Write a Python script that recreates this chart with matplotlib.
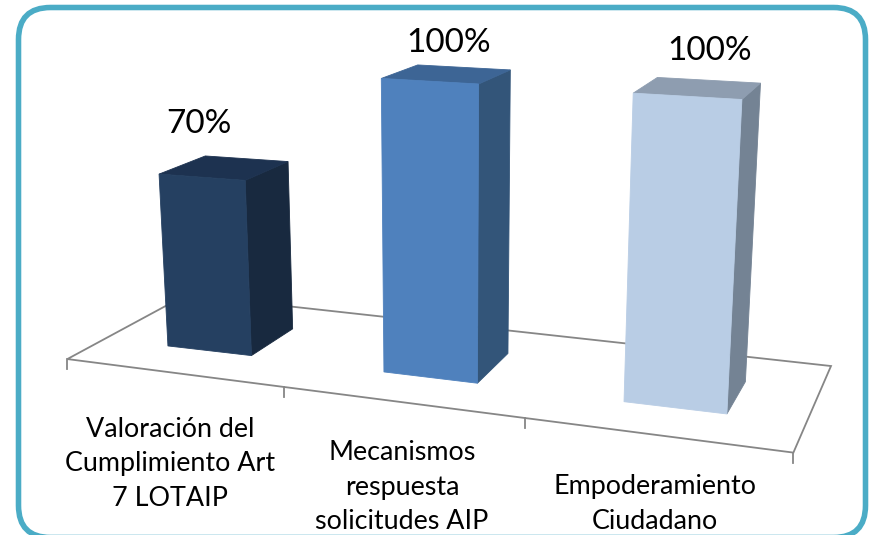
import numpy as np
import matplotlib
matplotlib.use("Agg")
import matplotlib.pyplot as plt
from matplotlib.patches import FancyBboxPatch, Polygon

plt.rcParams['font.family'] = ['Lato', 'DejaVu Sans']

categories = ["Valoración del\nCumplimiento Art\n7 LOTAIP", "Mecanismos\nrespuesta\nsolicitudes AIP", "Empoderamiento\nCiudadano"]
values = [70, 100, 100]
value_labels = ["70%", "100%", "100%"]

front_colors = ["#254061", "#4F81BD", "#B9CDE5"]
top_colors = ["#1D3250", "#3D6595", "#8E9DB0"]
side_colors = ["#18293F", "#335579", "#748394"]

BAR_WIDTH = 0.385
DEPTH_FRONT = 0.3
DEPTH_BACK = 0.7
BAR_OFFSET = [0.46, 0.5, 0.5]
LABEL_POS = [(170, 464), (402, 487), (655, 504)]
VALUE_POS = [(199, 124), (449, 43), (710, 51)]

# floor corners and ticks as seen in the picture, used to fit the 3d view
floor_world = [(0, 0, 0), (3, 0, 0), (3, 1, 0), (0, 1, 0), (1, 0, 0), (2, 0, 0)]
floor_px = [(67.3, 359.3), (793.3, 453.3), (831, 366), (186, 295), (284, 387), (524.7, 417)]
# bar corners: front bottom l/r, back bottom r, front top l/r, back top l/r
corner_px = [
	[(168, 346), (251.3, 355.7), (292.7, 328.7), (159.3, 174.3), (245, 180), (205, 155.7), (288.3, 162)],
	[(384, 372), (477.3, 383.3), (508, 353.3), (381.7, 78.3), (478.3, 84), (417.3, 65), (510.7, 70)],
	[(624, 401.7), (727, 414), (745.3, 381.7), (633.3, 93.3), (741.7, 99.3), (657.3, 77.3), (760.7, 83.3)],
]


def bar_box(i):
	x0 = i + BAR_OFFSET[i] - BAR_WIDTH / 2
	return x0, x0 + BAR_WIDTH


def fit_camera(world, px):
	a = []
	b = []
	for (x, y, z), (u, w) in zip(world, px):
		a.append([x, y, z, 1, 0, 0, 0, 0, -u * x, -u * y, -u * z])
		b.append(u)
		a.append([0, 0, 0, 0, x, y, z, 1, -w * x, -w * y, -w * z])
		b.append(w)
	m = np.linalg.lstsq(np.array(a), np.array(b), rcond=None)[0]
	return np.append(m, 1.0).reshape(3, 4)


def project(camera, x, y, z):
	p = camera @ np.array([x, y, z, 1.0])
	return p[0] / p[2], p[1] / p[2]


fig = plt.figure(figsize=(8.69, 5.35), dpi=100)
ax = fig.add_axes([0, 0, 1, 1])
ax.set_xlim(0, 869)
ax.set_ylim(535, 0)
ax.axis('off')

ax.add_patch(FancyBboxPatch((48.5, 37.5), 787, 470, boxstyle="round,pad=30,rounding_size=32",
	fc='white', ec='#4BACC6', lw=4.0, clip_on=True))

floor_cam = fit_camera(floor_world, floor_px)
floor = [project(floor_cam, x, y, 0) for x, y in [(0, 0), (3, 0), (3, 1), (0, 1)]]
ax.add_patch(Polygon(floor, closed=True, fc='white', ec='#868686', lw=1.3))
for i in range(4):
	tx, ty = project(floor_cam, i, 0, 0)
	ax.plot([tx, tx], [ty, ty + 10], color='#868686', lw=1.3)

for i, v in enumerate(values):
	x0, x1 = bar_box(i)
	d0, d1 = DEPTH_FRONT, DEPTH_BACK
	world = [(x0, d0, 0), (x1, d0, 0), (x1, d1, 0), (x0, d0, v), (x1, d0, v), (x0, d1, v), (x1, d1, v)]
	cam = fit_camera(world, corner_px[i])
	side = [project(cam, x1, d0, 0), project(cam, x1, d1, 0), project(cam, x1, d1, v), project(cam, x1, d0, v)]
	top = [project(cam, x0, d0, v), project(cam, x1, d0, v), project(cam, x1, d1, v), project(cam, x0, d1, v)]
	front = [project(cam, x0, d0, 0), project(cam, x1, d0, 0), project(cam, x1, d0, v), project(cam, x0, d0, v)]
	# thin edge in the face colour closes the seams between faces
	ax.add_patch(Polygon(side, closed=True, fc=side_colors[i], ec=side_colors[i], lw=0.6, zorder=3))
	ax.add_patch(Polygon(top, closed=True, fc=top_colors[i], ec=top_colors[i], lw=0.6, zorder=3))
	ax.add_patch(Polygon(front, closed=True, fc=front_colors[i], ec=front_colors[i], lw=0.6, zorder=3))
	ax.text(VALUE_POS[i][0], VALUE_POS[i][1], value_labels[i], ha='center', va='center', fontsize=24, color='black')
	ax.text(LABEL_POS[i][0], LABEL_POS[i][1], categories[i], ha='center', va='center', fontsize=19.4,
		linespacing=1.47, color='black')

fig.savefig("out.png", dpi=100)
